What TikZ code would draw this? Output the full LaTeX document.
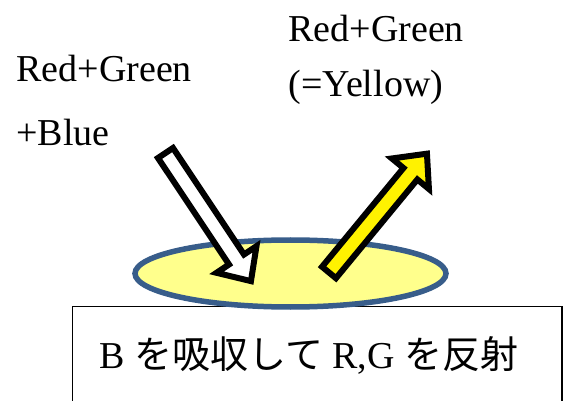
\documentclass[tikz,border=0pt]{standalone}
\usepackage{fontspec}
\setmainfont{Liberation Serif}
\newfontfamily\jpfont{Noto Sans CJK JP}
\usetikzlibrary{positioning}

\definecolor{rimblue}{RGB}{56,93,138}
\definecolor{paleyellow}{RGB}{255,255,140}

\tikzset{
    pics/blockarrow/.style={code={
        \draw[line width=3pt, fill=#1]
            (0,-9) -- (128,-9) -- (128,-24) -- (154,0)
            -- (128,24) -- (128,9) -- (0,9) -- cycle;
    }}
}

\begin{document}
\begin{tikzpicture}[
    x=0.5pt, y=-0.5pt,
    every node/.style={inner sep=0pt, anchor=base west, font=\fontsize{19}{23}\selectfont}
]
\useasboundingbox (0,0) rectangle (563,401);
\clip (0,0) rectangle (563,401);

% Light labels
\node (inlight1) at (16,82) {Red+Green};
\node (inlight2) at (16,146) {+Blue};
\node (outlight1) at (288,42) {Red+Green};
\node (outlight2) at (288,97) {(=Yellow)};

% Box with caption
\draw[line width=0.75pt] (72.5,306.5) rectangle (562,420);
\node (caption) at (99,368) {B {\jpfont を吸収して} R,G {\jpfont を反射}};

% Surface
\draw[rimblue, fill=paleyellow, line width=2.75pt] (290.5,273.5) ellipse [x radius=155.5, y radius=33.5];

% Incoming and reflected light
\pic[shift={(165.5,153)}, rotate=-56.3] {blockarrow=white};
\pic[shift={(329,272.5)}, rotate=50.5] {blockarrow=yellow};

\end{tikzpicture}
\end{document}
